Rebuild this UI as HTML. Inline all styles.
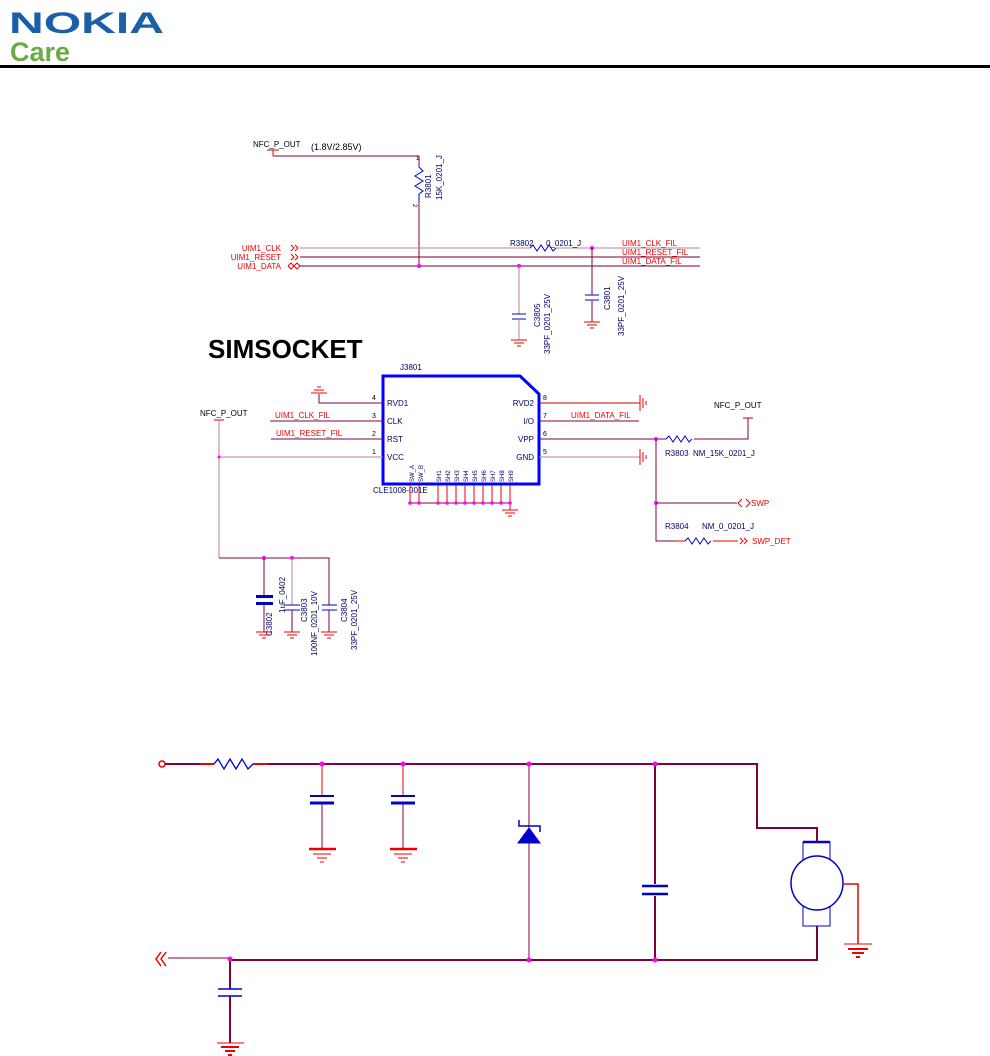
<!DOCTYPE html>
<html><head><meta charset="utf-8"><style>
html,body{margin:0;padding:0;background:#fff;}
svg{display:block;}
text{font-family:"Liberation Sans",sans-serif;}
</style></head><body>
<svg width="990" height="1056" viewBox="0 0 990 1056" xmlns="http://www.w3.org/2000/svg">
<!-- header -->
<text x="9" y="33" font-size="30" font-weight="bold" fill="#1a5fa8" textLength="155" lengthAdjust="spacingAndGlyphs">NOKIA</text>
<text x="10" y="61" font-size="27" font-weight="bold" fill="#6aab45">Care</text>
<rect x="0" y="65" width="990" height="3" fill="#000"/>

<g font-size="8" fill="#000">
<!-- top section -->
<text x="253" y="147">NFC_P_OUT</text>
<text x="311" y="150" font-size="9" font-family="Liberation Mono">(1.8V/2.85V)</text>
<line x1="267" y1="150" x2="279" y2="150" stroke="#c00"/>
<line x1="273" y1="150" x2="273" y2="156" stroke="#c00"/>
<polyline points="273,156 419,156 419,167" fill="none" stroke="#800040"/>
<polyline points="419,167 423,171 415,176 423,181 415,186 423,191 419,194 419,202" fill="none" stroke="#00c"/>
<line x1="419" y1="202" x2="419" y2="266" stroke="#800040"/>
<text x="416" y="160" font-size="6">1</text><text x="413" y="204" font-size="6" transform="rotate(90 413 204)">2</text>
<text transform="translate(431,198) rotate(-90)" fill="#006" font-size="8">R3801</text>
<text transform="translate(442,200) rotate(-90)" fill="#006" font-size="8">15K_0201_J</text>

<g fill="#e00" font-size="8">
<text x="281" y="251" text-anchor="end">UIM1_CLK</text>
<text x="281" y="260" text-anchor="end">UIM1_RESET</text>
<text x="281" y="269" text-anchor="end">UIM1_DATA</text>
<text x="622" y="246">UIM1_CLK_FIL</text>
<text x="622" y="255">UIM1_RESET_FIL</text>
<text x="622" y="264">UIM1_DATA_FIL</text>
</g>
<g stroke="#e00" fill="none">
<polyline points="291,245 294,248 291,251"/><polyline points="295,245 298,248 295,251"/>
<polyline points="291,254 294,257 291,260"/><polyline points="295,254 298,257 295,260"/>
<polyline points="288,266 291,263 294,266 291,269 288,266"/><polyline points="294,266 297,263 300,266 297,269 294,266"/>
</g>
<line x1="300" y1="248" x2="530" y2="248" stroke="#c08090"/>
<polyline points="530,248 533,245 537,251 541,245 545,251 549,245 553,251 556,248" fill="none" stroke="#00c"/>
<line x1="556" y1="248" x2="700" y2="248" stroke="#c08090"/>
<line x1="300" y1="257" x2="700" y2="257" stroke="#700030"/>
<line x1="300" y1="266" x2="700" y2="266" stroke="#700030"/>
<text x="510" y="246" fill="#006">R3802</text><text x="546" y="246" fill="#006">0_0201_J</text>
<circle cx="419" cy="266" r="2" fill="#f0f"/>
<circle cx="519" cy="266" r="2" fill="#f0f"/>
<circle cx="592" cy="248" r="2" fill="#f0f"/>
<!-- C3805 -->
<line x1="519" y1="266" x2="519" y2="314" stroke="#c08090"/>
<line x1="512" y1="314" x2="526" y2="314" stroke="#00c"/><line x1="512" y1="319" x2="526" y2="319" stroke="#00c"/>
<line x1="519" y1="319" x2="519" y2="340" stroke="#c08090"/>
<g stroke="#e00"><line x1="511" y1="340" x2="527" y2="340"/><line x1="514" y1="343" x2="524" y2="343"/><line x1="517" y1="346" x2="521" y2="346"/></g>
<text transform="translate(540,327) rotate(-90)" fill="#006">C3805</text>
<text transform="translate(550,354) rotate(-90)" fill="#006">33PF_0201_25V</text>
<!-- C3801 -->
<line x1="592" y1="248" x2="592" y2="295" stroke="#800040"/>
<line x1="585" y1="295" x2="599" y2="295" stroke="#00c"/><line x1="585" y1="300" x2="599" y2="300" stroke="#00c"/>
<line x1="592" y1="300" x2="592" y2="322" stroke="#800040"/>
<g stroke="#e00"><line x1="584" y1="322" x2="600" y2="322"/><line x1="587" y1="325" x2="597" y2="325"/><line x1="590" y1="328" x2="594" y2="328"/></g>
<text transform="translate(610,310) rotate(-90)" fill="#006">C3801</text>
<text transform="translate(624,336) rotate(-90)" fill="#006">33PF_0201_25V</text>

<text x="208" y="358" font-size="26" font-weight="bold" fill="#000">SIMSOCKET</text>

<!-- socket -->
<polygon points="383,376 520,376 539,394 539,484 383,484" fill="none" stroke="#00f" stroke-width="3"/>
<text x="400" y="370" fill="#006">J3801</text>
<g fill="#006" font-size="8">
<text x="387" y="406">RVD1</text><text x="387" y="424">CLK</text><text x="387" y="442">RST</text><text x="387" y="460">VCC</text>
<text x="534" y="406" text-anchor="end">RVD2</text><text x="534" y="424" text-anchor="end">I/O</text><text x="534" y="442" text-anchor="end">VPP</text><text x="534" y="460" text-anchor="end">GND</text>
<text x="373" y="493">CLE1008-001E</text>
</g>
<g fill="#000" font-size="7">
<text x="372" y="400">4</text><text x="372" y="418">3</text><text x="372" y="436">2</text><text x="372" y="454">1</text>
<text x="543" y="400">8</text><text x="543" y="418">7</text><text x="543" y="436">6</text><text x="543" y="454">5</text>
</g>
<g fill="#006" font-size="6">
<text transform="translate(414,482) rotate(-90)">SW_A</text><text transform="translate(423,482) rotate(-90)">SW_B</text>
<text transform="translate(441,482) rotate(-90)">SH1</text><text transform="translate(450,482) rotate(-90)">SH2</text><text transform="translate(459,482) rotate(-90)">SH3</text>
<text transform="translate(468,482) rotate(-90)">SH4</text><text transform="translate(477,482) rotate(-90)">SH5</text><text transform="translate(486,482) rotate(-90)">SH6</text>
<text transform="translate(495,482) rotate(-90)">SH7</text><text transform="translate(504,482) rotate(-90)">SH8</text><text transform="translate(513,482) rotate(-90)">SH9</text>
</g>
<g stroke="#e00">
<line x1="410" y1="485" x2="410" y2="503"/><line x1="419" y1="485" x2="419" y2="503"/>
<line x1="438" y1="485" x2="438" y2="503"/><line x1="447" y1="485" x2="447" y2="503"/><line x1="456" y1="485" x2="456" y2="503"/>
<line x1="465" y1="485" x2="465" y2="503"/><line x1="474" y1="485" x2="474" y2="503"/><line x1="483" y1="485" x2="483" y2="503"/>
<line x1="492" y1="485" x2="492" y2="503"/><line x1="501" y1="485" x2="501" y2="503"/><line x1="510" y1="485" x2="510" y2="510"/>
<line x1="502" y1="510" x2="518" y2="510"/><line x1="505" y1="513" x2="515" y2="513"/><line x1="508" y1="516" x2="512" y2="516"/>
</g>
<line x1="410" y1="503" x2="510" y2="503" stroke="#800040"/>
<g fill="#f0f"><circle cx="410" cy="503" r="1.8"/><circle cx="419" cy="503" r="1.8"/><circle cx="438" cy="503" r="1.8"/><circle cx="447" cy="503" r="1.8"/><circle cx="456" cy="503" r="1.8"/><circle cx="465" cy="503" r="1.8"/><circle cx="474" cy="503" r="1.8"/><circle cx="483" cy="503" r="1.8"/><circle cx="492" cy="503" r="1.8"/><circle cx="501" cy="503" r="1.8"/><circle cx="510" cy="503" r="1.8"/></g>

<!-- left pins -->
<polyline points="383,403 319,403 319,394" fill="none" stroke="#800040"/>
<g stroke="#e00"><line x1="311" y1="393" x2="327" y2="393"/><line x1="314" y1="390" x2="324" y2="390"/><line x1="317" y1="387" x2="321" y2="387"/></g>
<line x1="270" y1="421" x2="383" y2="421" stroke="#800040"/>
<line x1="271" y1="439" x2="383" y2="439" stroke="#800040"/>
<text x="275" y="418" fill="#e00">UIM1_CLK_FIL</text>
<text x="276" y="436" fill="#e00">UIM1_RESET_FIL</text>
<line x1="219" y1="457" x2="383" y2="457" stroke="#c08090"/>
<text x="200" y="416">NFC_P_OUT</text>
<line x1="214" y1="420" x2="224" y2="420" stroke="#c00"/>
<line x1="219" y1="420" x2="219" y2="558" stroke="#c08090"/>
<circle cx="219" cy="457" r="1.5" fill="#f0f"/>
<polyline points="219,558 329,558 329,605" fill="none" stroke="#800040"/>
<circle cx="264" cy="558" r="2" fill="#f0f"/><circle cx="292" cy="558" r="2" fill="#f0f"/>
<line x1="264" y1="558" x2="264" y2="596" stroke="#800040"/>
<rect x="256" y="595" width="17" height="3" fill="#00c"/><rect x="256" y="602" width="17" height="3" fill="#00c"/>
<line x1="264" y1="605" x2="264" y2="632" stroke="#800040"/>
<line x1="292" y1="558" x2="292" y2="605" stroke="#c08090"/>
<line x1="285" y1="605" x2="300" y2="605" stroke="#00c"/><line x1="285" y1="610" x2="300" y2="610" stroke="#00c"/>
<line x1="292" y1="610" x2="292" y2="632" stroke="#800040"/>
<line x1="322" y1="605" x2="337" y2="605" stroke="#00c"/><line x1="322" y1="610" x2="337" y2="610" stroke="#00c"/>
<line x1="329" y1="610" x2="329" y2="632" stroke="#800040"/>
<g stroke="#e00">
<line x1="256" y1="632" x2="272" y2="632"/><line x1="259" y1="635" x2="269" y2="635"/><line x1="262" y1="638" x2="266" y2="638"/>
<line x1="284" y1="632" x2="300" y2="632"/><line x1="287" y1="635" x2="297" y2="635"/><line x1="290" y1="638" x2="294" y2="638"/>
<line x1="321" y1="632" x2="337" y2="632"/><line x1="324" y1="635" x2="334" y2="635"/><line x1="327" y1="638" x2="331" y2="638"/>
</g>
<g fill="#006" font-size="8">
<text transform="translate(272,636) rotate(-90)">C3802</text>
<text transform="translate(285,613) rotate(-90)">1uF_0402</text>
<text transform="translate(307,622) rotate(-90)">C3803</text>
<text transform="translate(317,656) rotate(-90)">100NF_0201_10V</text>
<text transform="translate(347,622) rotate(-90)">C3804</text>
<text transform="translate(357,650) rotate(-90)">33PF_0201_25V</text>
</g>

<!-- right pins -->
<line x1="539" y1="403" x2="640" y2="403" stroke="#c00"/>
<line x1="539" y1="421" x2="639" y2="421" stroke="#800040"/>
<line x1="539" y1="457" x2="640" y2="457" stroke="#c08090"/>
<g stroke="#e00"><line x1="640" y1="395" x2="640" y2="411"/><line x1="643" y1="398" x2="643" y2="408"/><line x1="646" y1="401" x2="646" y2="405"/>
<line x1="640" y1="449" x2="640" y2="465"/><line x1="643" y1="452" x2="643" y2="462"/><line x1="646" y1="455" x2="646" y2="459"/></g>
<text x="571" y="418" fill="#e00">UIM1_DATA_FIL</text>
<line x1="539" y1="439" x2="666" y2="439" stroke="#800040"/>
<polyline points="666,439 669,436 673,442 677,436 681,442 685,436 689,442 692,439" fill="none" stroke="#00c"/>
<polyline points="694,439 748,439 748,418" fill="none" stroke="#800040"/>
<line x1="743" y1="418" x2="753" y2="418" stroke="#c00"/>
<text x="714" y="408">NFC_P_OUT</text>
<text x="665" y="456" fill="#006">R3803</text><text x="693" y="456" fill="#006">NM_15K_0201_J</text>
<circle cx="656" cy="439" r="2" fill="#f0f"/>
<polyline points="656,439 656,541 675,541" fill="none" stroke="#800040"/>
<circle cx="656" cy="503" r="2" fill="#f0f"/>
<line x1="656" y1="503" x2="737" y2="503" stroke="#800040"/>
<g stroke="#e00" fill="none"><polyline points="742,499 738,503 742,507"/><polyline points="746,499 750,503 746,507"/></g>
<text x="751" y="506" fill="#e00">SWP</text>
<text x="665" y="529" fill="#006">R3804</text><text x="702" y="529" fill="#006">NM_0_0201_J</text>
<polyline points="685,541 688,538 692,544 696,538 700,544 704,538 708,544 711,541" fill="none" stroke="#00c"/>
<line x1="675" y1="541" x2="685" y2="541" stroke="#e00"/><line x1="713" y1="541" x2="738" y2="541" stroke="#e00"/>
<g stroke="#e00" fill="none"><polyline points="740,538 743,541 740,544"/><polyline points="744,538 747,541 744,544"/></g>
<text x="752" y="544" fill="#e00">SWP_DET</text>
</g>

<!-- bottom circuit -->
<g fill="none">
<circle cx="162" cy="764" r="3" stroke="#e00" stroke-width="1.5"/>
<line x1="165" y1="764" x2="200" y2="764" stroke="#800040" stroke-width="2"/>
<line x1="200" y1="764" x2="214" y2="764" stroke="#e00" stroke-width="2"/>
<polyline points="214,764 218,759 224,769 230,759 236,769 242,759 248,769 253,764" stroke="#00c" stroke-width="1.3"/>
<line x1="253" y1="764" x2="268" y2="764" stroke="#e00" stroke-width="2"/>
<polyline points="268,764 757,764 757,828 817,828 817,842" stroke="#800040" stroke-width="2"/>
<polyline points="817,926 817,960 230,960" stroke="#800040" stroke-width="2"/>
<line x1="168" y1="958" x2="230" y2="958" stroke="#800040" stroke-width="1"/>
<path d="M161,952 L156,959 L161,966 M166,952 L161,959 L166,966" stroke="#e00" stroke-width="1.5"/>
<!-- caps top -->
<line x1="322" y1="764" x2="322" y2="796" stroke="#e00"/><line x1="322" y1="803" x2="322" y2="849" stroke="#800040"/>
<line x1="310" y1="796" x2="334" y2="796" stroke="#00c" stroke-width="2"/><line x1="310" y1="803" x2="334" y2="803" stroke="#00c" stroke-width="3"/>
<line x1="403" y1="764" x2="403" y2="796" stroke="#e00"/><line x1="403" y1="803" x2="403" y2="849" stroke="#800040"/>
<line x1="391" y1="796" x2="415" y2="796" stroke="#00c" stroke-width="2"/><line x1="391" y1="803" x2="415" y2="803" stroke="#00c" stroke-width="3"/>
<g stroke="#e00"><line x1="309" y1="849" x2="336" y2="849" stroke-width="2.5"/><line x1="313" y1="854" x2="331" y2="854"/><line x1="317" y1="858" x2="327" y2="858"/><line x1="320" y1="862" x2="324" y2="862"/>
<line x1="390" y1="849" x2="417" y2="849" stroke-width="2.5"/><line x1="394" y1="854" x2="412" y2="854"/><line x1="398" y1="858" x2="408" y2="858"/><line x1="401" y1="862" x2="405" y2="862"/></g>
<!-- zener -->
<line x1="529" y1="764" x2="529" y2="960" stroke="#800040"/>
<polygon points="529,828 518,843 540,843" fill="#00c" stroke="#00c"/>
<polyline points="519,820 519,826 540,826 540,832" stroke="#00c" stroke-width="1.5"/>
<!-- cap right -->
<line x1="655" y1="764" x2="655" y2="960" stroke="#800040" stroke-width="2"/>
<rect x="642" y="884" width="26" height="12" fill="#fff" stroke="none"/>
<line x1="642" y1="886" x2="668" y2="886" stroke="#00c" stroke-width="2.5"/><line x1="642" y1="894" x2="668" y2="894" stroke="#00c" stroke-width="2.5"/>
<!-- motor -->
<rect x="803" y="842" width="27" height="84" stroke="#00c" stroke-width="1"/>
<line x1="803" y1="842" x2="830" y2="842" stroke="#00c" stroke-width="2.5"/>
<ellipse cx="817" cy="883" rx="26" ry="27" fill="#fff" stroke="#00c" stroke-width="1.5"/>
<polyline points="844,884 858,884 858,944" stroke="#e00" stroke-width="1.5"/>
<g stroke="#e00"><line x1="844" y1="944" x2="872" y2="944"/><line x1="848" y1="949" x2="868" y2="949" stroke-width="2"/><line x1="852" y1="953" x2="864" y2="953" stroke-width="2"/><line x1="856" y1="957" x2="860" y2="957" stroke-width="2"/></g>
<!-- left cap -->
<line x1="230" y1="960" x2="230" y2="989" stroke="#800040" stroke-width="2"/>
<line x1="218" y1="989" x2="242" y2="989" stroke="#00c" stroke-width="1.5"/><line x1="218" y1="996" x2="242" y2="996" stroke="#00c" stroke-width="1.5"/>
<line x1="230" y1="996" x2="230" y2="1043" stroke="#800040" stroke-width="2"/>
<g stroke="#e00"><line x1="217" y1="1043" x2="244" y2="1043"/><line x1="221" y1="1047" x2="239" y2="1047" stroke-width="2"/><line x1="225" y1="1051" x2="235" y2="1051" stroke-width="2"/><line x1="228" y1="1055" x2="232" y2="1055" stroke-width="2"/></g>
</g>
<g fill="#f0f">
<circle cx="322" cy="764" r="2.5"/><circle cx="403" cy="764" r="2.5"/><circle cx="529" cy="764" r="2.5"/><circle cx="655" cy="764" r="2.5"/>
<circle cx="230" cy="959" r="2.5"/><circle cx="529" cy="960" r="2.5"/><circle cx="655" cy="960" r="2.5"/>
</g>
</svg>
</body></html>
